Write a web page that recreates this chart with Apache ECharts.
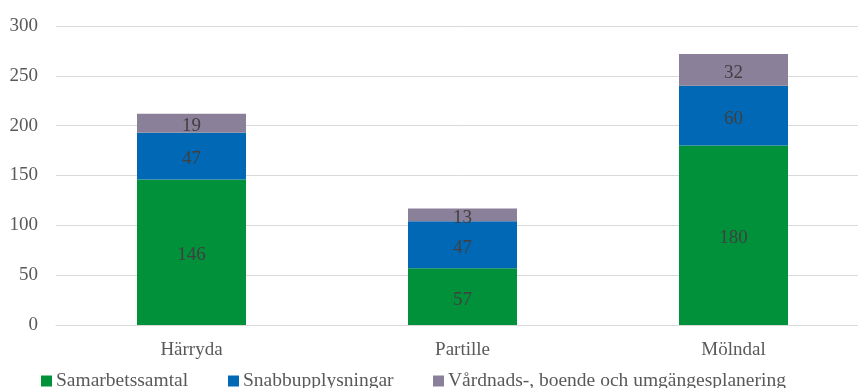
<!DOCTYPE html>
<html>
<head>
<meta charset="utf-8">
<script src="https://cdn.jsdelivr.net/npm/echarts@6/dist/echarts.min.js"></script>
<style>
  html, body { margin: 0; padding: 0; background: #fff; overflow: hidden; }
  #chart { width: 858px; height: 388px; }
</style>
</head>
<body>
<div id="chart"></div>
<script>
// Kommuner och antal ärenden per ärendetyp
const categories = ['Härryda', 'Partille', 'Mölndal'];
const samarbetssamtal = [146, 57, 180];
const snabbupplysningar = [47, 47, 60];
const vardnadsplanering = [19, 13, 32];
const seriesNames = ['Samarbetssamtal', 'Snabbupplysningar', 'Vårdnads-, boende och umgängesplanering'];
const yTicks = [0, 50, 100, 150, 200, 250, 300];

const colors = ['#00913A', '#0068B5', '#8B8099'];
const font = '"Liberation Serif", "Times New Roman", serif';

const labelStyle = {
  show: true,
  position: 'inside',
  offset: [0, 3],
  color: '#404040',
  fontFamily: font,
  fontSize: 19
};

function bar(name, data, color) {
  return {
    name: name,
    type: 'bar',
    stack: 'total',
    data: data,
    barWidth: 109,
    itemStyle: { color: color },
    label: labelStyle,
    emphasis: { disabled: true }
  };
}

function legendAt(left, name) {
  return {
    data: [name],
    left: left,
    top: 371,
    icon: 'rect',
    itemWidth: 11,
    itemHeight: 11,
    itemGap: 0,
    padding: 0,
    selectedMode: false,
    textStyle: { color: '#595959', fontFamily: font, fontSize: 19.5, lineHeight: 19, padding: [0, 0, 0, -1] }
  };
}

const chart = echarts.init(document.getElementById('chart'), null, { renderer: 'canvas' });
chart.setOption({
  animation: false,
  backgroundColor: '#ffffff',
  // the plot area runs a little past the right edge of the canvas
  grid: { left: 56, width: 813, top: 26, bottom: 63, containLabel: false, outerBoundsMode: 'none' },
  legend: [
    legendAt(41, seriesNames[0]),
    legendAt(228, seriesNames[1]),
    legendAt(433, seriesNames[2])
  ],
  xAxis: {
    type: 'category',
    data: categories,
    axisLine: { show: true, lineStyle: { color: '#d9d9d9', width: 1 } },
    axisTick: { show: false },
    axisLabel: { color: '#595959', fontFamily: font, fontSize: 19, margin: 16 }
  },
  yAxis: {
    type: 'value',
    min: yTicks[0],
    max: yTicks[yTicks.length - 1],
    interval: 50,
    axisLine: { show: false },
    axisTick: { show: false },
    splitLine: { lineStyle: { color: '#d9d9d9', width: 1 } },
    axisLabel: { color: '#595959', fontFamily: font, fontSize: 19, margin: 18 }
  },
  series: [
    bar(seriesNames[0], samarbetssamtal, colors[0]),
    bar(seriesNames[1], snabbupplysningar, colors[1]),
    bar(seriesNames[2], vardnadsplanering, colors[2])
  ]
});
</script>
</body>
</html>
